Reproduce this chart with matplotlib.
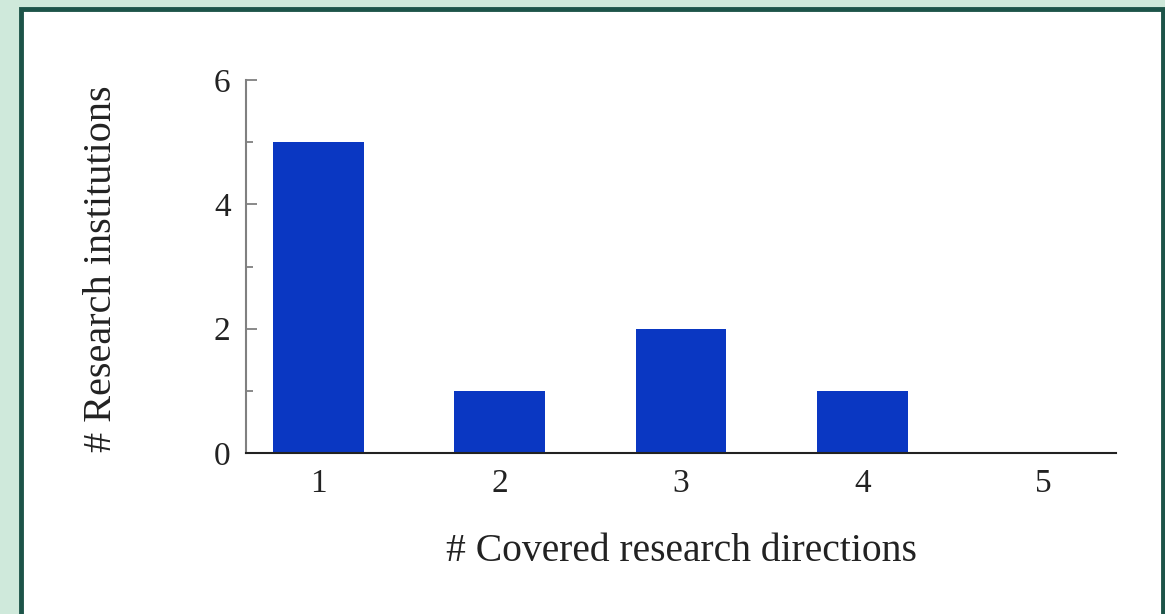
import numpy as np
import matplotlib.pyplot as plt
from matplotlib.patches import Rectangle

directions = [1, 2, 3, 4, 5]
institutions = [5, 1, 2, 1, 0]
y_ticks = [0, 2, 4, 6]
y_minor = [1, 3, 5]

plt.rcParams['font.family'] = ['Liberation Serif', 'DejaVu Serif']

fig = plt.figure(figsize=(11.65, 6.14), dpi=100)
fig.patch.set_facecolor('#cfe9db')

# white card with dark green frame
W, H = 1165, 614
card = Rectangle((21 / W, -0.05), (1163 - 21) / W, 1 - 8.5 / H + 0.05,
                 transform=fig.transFigure, facecolor='white',
                 edgecolor='#1d5449', linewidth=3.5, zorder=-1)
fig.patches.append(card)

ax = fig.add_axes([246 / W, 1 - 453 / H, (1116 - 246) / W, (453 - 80) / H])
ax.set_facecolor('none')
ax.bar(directions, institutions, width=0.5, color='#0a37c2', zorder=2)

ax.set_xlim(0.6, 5.4)
ax.set_ylim(0, 6)
ax.set_xticks(directions)
ax.set_yticks(y_ticks)
ax.set_yticks(y_minor, minor=True)

ax.spines['top'].set_visible(False)
ax.spines['right'].set_visible(False)
ax.spines['left'].set_color('#808080')
ax.spines['left'].set_linewidth(1.5)
ax.spines['bottom'].set_color('#222222')
ax.spines['bottom'].set_linewidth(1.5)

ax.tick_params(axis='x', length=0, pad=11, labelsize=24, labelcolor='#222222')
ax.tick_params(axis='y', which='major', direction='in', length=8, width=1.3,
               color='#808080', pad=11, labelsize=24, labelcolor='#222222')
ax.tick_params(axis='y', which='minor', direction='in', length=5, width=1.3,
               color='#808080')

ax.set_xlabel('# Covered research directions', fontsize=28.5, color='#222222')
ax.set_ylabel('# Research institutions', fontsize=29, color='#222222')
ax.xaxis.set_label_coords(0.5, -0.215)
ax.yaxis.set_label_coords(-0.145, 0.495)

fig.savefig('out.png', dpi=100, facecolor=fig.get_facecolor())
